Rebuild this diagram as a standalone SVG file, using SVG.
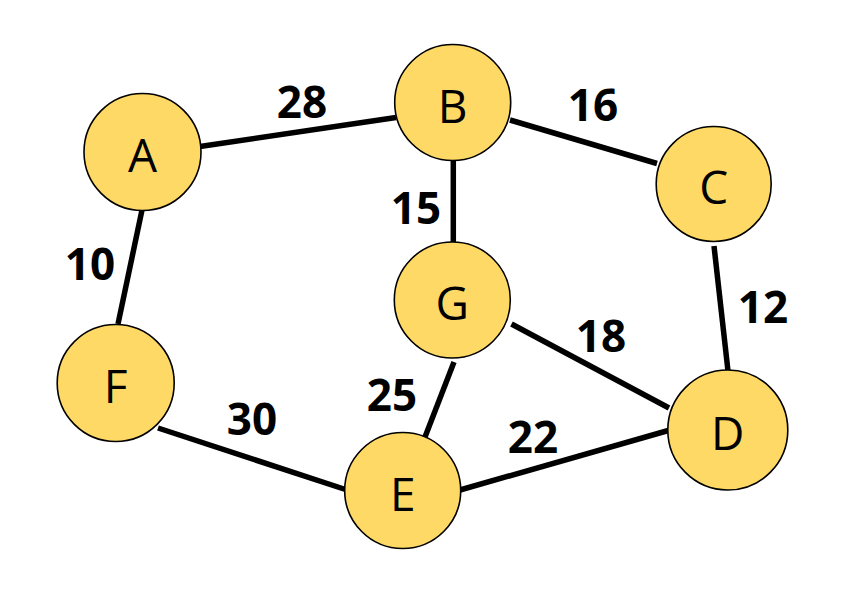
<svg xmlns="http://www.w3.org/2000/svg" width="864" height="589" viewBox="0 0 864 589">
<style>
.edge{stroke:#000;stroke-width:5.5;fill:none}
.node circle{fill:#FFD966;stroke:#000;stroke-width:1.6}
.node text{font-family:"Open Sans","Liberation Sans",sans-serif;font-size:46px;text-anchor:middle;fill:#000}
.w{font-family:"Open Sans","Liberation Sans",sans-serif;font-size:44px;font-weight:bold;text-anchor:middle;fill:#000}
</style>
<rect width="864" height="589" fill="#fff"/>
<g id="connectors">
<line class="edge" x1="200" y1="146.5" x2="396" y2="117.5"/>
<line class="edge" x1="510" y1="120" x2="657" y2="163.5"/>
<line class="edge" x1="142" y1="210" x2="118" y2="324"/>
<line class="edge" x1="158" y1="428" x2="347" y2="490"/>
<line class="edge" x1="453.3" y1="160" x2="453.3" y2="242"/>
<line class="edge" x1="511.5" y1="324" x2="669" y2="408"/>
<line class="edge" x1="454" y1="362" x2="425" y2="437"/>
<line class="edge" x1="460" y1="490" x2="670" y2="430"/>
<line class="edge" x1="714" y1="246" x2="728" y2="371"/>
</g>
<g id="labels">
<text class="w" x="302" y="118">28</text>
<text class="w" x="593" y="121">16</text>
<text class="w" x="416" y="224">15</text>
<text class="w" x="90" y="280">10</text>
<text class="w" x="763" y="323">12</text>
<text class="w" x="601" y="352">18</text>
<text class="w" x="392" y="411">25</text>
<text class="w" x="252" y="435">30</text>
<text class="w" x="533" y="453">22</text>
</g>
<g id="A" class="node"><circle cx="142.5" cy="152" r="58.5"/><text x="142.5" y="172">A</text></g>
<g id="B" class="node"><circle cx="452.7" cy="102.5" r="58"/><text x="452.7" y="123">B</text></g>
<g id="C" class="node"><circle cx="713.7" cy="184" r="57.5"/><text x="713.7" y="204">C</text></g>
<g id="G" class="node"><circle cx="452.3" cy="300" r="58"/><text x="452.3" y="320">G</text></g>
<g id="F" class="node"><circle cx="115.7" cy="383" r="58.5"/><text x="115.7" y="403">F</text></g>
<g id="D" class="node"><circle cx="727.8" cy="430" r="60"/><text x="727.8" y="450">D</text></g>
<g id="E" class="node"><circle cx="402.7" cy="490.5" r="58"/><text x="402.7" y="510.5">E</text></g>
</svg>
